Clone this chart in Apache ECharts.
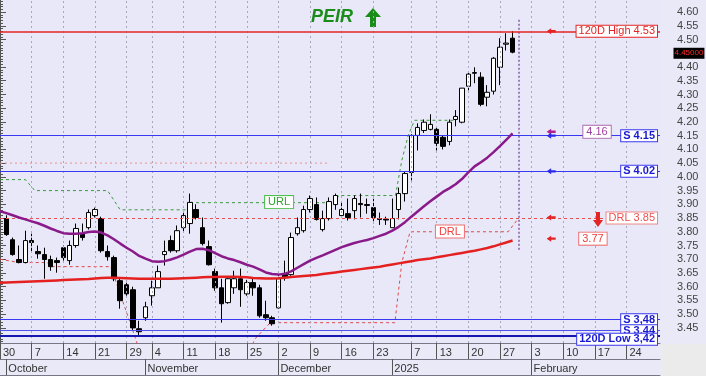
<!DOCTYPE html>
<html><head><meta charset="utf-8">
<script src="https://cdn.jsdelivr.net/npm/echarts@6/dist/echarts.min.js"></script>
<style>html,body{margin:0;padding:0;background:#fff}#c{width:706px;height:381px}</style>
</head><body><div id="c"></div>
<script>
// ---- data ----
const dayTickIdx = [0,5,10,15,20,24,29,34,39,44,49,54,59,65,69,74,79,84,89,94,99];
const dayTickLabels = ['30','7','14','21','29','4','11','18','25','2','9','16','23','7','13','20','27','3','10','17','24'];
const monthTickIdx = [1,23,44,62,84];
const monthLabels = ['October','November','December','2025','February'];
const priceTickLabels = ['3.45','3.50','3.55','3.60','3.65','3.70','3.75','3.80','3.85','3.90','3.95','4.00','4.05','4.10','4.15','4.20','4.25','4.30','4.35','4.40','4.50','4.55','4.60'];

const opens = [3.848,3.771,3.699,3.688,3.768,3.728,3.717,3.699,3.695,3.742,
 3.695,3.750,3.793,3.815,3.859,3.848,3.728,3.706,3.622,3.607,
 3.589,3.447,3.487,3.567,3.596,3.717,3.768,3.731,3.815,3.830,
 3.881,3.815,3.746,3.655,3.596,3.542,3.596,3.629,3.574,3.615,
 3.596,3.498,3.487,3.523,3.644,3.644,3.793,3.804,3.881,3.899,
 3.808,3.848,3.899,3.859,3.866,3.877,3.903,3.899,3.888,3.848,
 3.846,3.815,3.881,3.939,4.016,4.151,4.169,4.173,4.173,4.144,
 4.129,4.209,4.199,4.330,4.377,4.363,4.290,4.312,4.399,4.483,4.505];
const closes = [3.790,3.717,3.688,3.768,3.761,3.720,3.699,3.673,3.688,3.706,
 3.750,3.812,3.779,3.870,3.881,3.731,3.709,3.629,3.549,3.574,
 3.450,3.436,3.527,3.596,3.655,3.728,3.731,3.804,3.859,3.907,
 3.852,3.757,3.680,3.596,3.538,3.629,3.629,3.589,3.615,3.596,
 3.494,3.487,3.465,3.629,3.636,3.779,3.815,3.881,3.921,3.845,
 3.848,3.910,3.932,3.881,3.852,3.921,3.899,3.896,3.852,3.845,
 3.843,3.848,3.939,4.012,4.151,4.180,4.199,4.191,4.122,4.111,
 4.199,4.220,4.323,4.374,4.380,4.264,4.308,4.432,4.472,4.487,4.454];
const lows = [3.785,3.713,3.685,3.685,3.724,3.702,3.629,3.658,3.651,3.695,
 3.680,3.742,3.768,3.808,3.852,3.724,3.695,3.620,3.520,3.567,
 3.439,3.418,3.476,3.531,3.596,3.677,3.724,3.724,3.797,3.793,
 3.845,3.750,3.677,3.585,3.469,3.538,3.574,3.527,3.567,3.567,
 3.487,3.476,3.458,3.520,3.622,3.640,3.786,3.797,3.870,3.841,
 3.801,3.841,3.880,3.852,3.841,3.845,3.852,3.866,3.831,3.825,
 3.825,3.815,3.845,3.910,3.987,4.096,4.160,4.169,4.096,4.100,
 4.115,4.184,4.195,4.315,4.341,4.257,4.257,4.300,4.334,4.460,4.450];
const highs = [3.860,3.779,3.750,3.804,3.793,3.750,3.742,3.713,3.706,3.750,
 3.768,3.830,3.830,3.881,3.888,3.855,3.750,3.713,3.633,3.622,
 3.600,3.476,3.545,3.622,3.677,3.768,3.786,3.823,3.870,3.939,
 3.900,3.852,3.768,3.666,3.629,3.636,3.658,3.666,3.625,3.629,
 3.607,3.549,3.494,3.644,3.695,3.797,3.852,3.895,3.932,3.925,
 3.877,3.925,3.939,3.910,3.921,3.932,3.939,3.921,3.920,3.870,
 3.855,3.921,3.961,4.020,4.155,4.195,4.209,4.228,4.180,4.151,
 4.209,4.243,4.323,4.380,4.399,4.381,4.334,4.436,4.505,4.523,4.531];

// moving averages, index 0 = Sep 30
const maFast = [3.875,3.868,3.860,3.852,3.845,3.838,3.831,3.822,3.812,3.803,3.795,
 3.793,3.793,3.795,3.799,3.801,3.797,3.787,3.773,3.757,3.742,
 3.728,3.712,3.702,3.693,3.691,3.693,3.699,3.707,3.717,3.728,
 3.737,3.738,3.733,3.722,3.711,3.703,3.697,3.689,3.680,3.673,
 3.663,3.652,3.646,3.644,3.647,3.656,3.669,3.682,3.695,3.705,
 3.714,3.724,3.734,3.744,3.752,3.759,3.765,3.770,3.777,3.785,
 3.793,3.804,3.818,3.835,3.855,3.874,3.893,3.911,3.928,3.945,
 3.958,3.973,3.992,4.016,4.038,4.053,4.070,4.090,4.112,4.135,4.158];
const maSlow = [3.614,3.615,3.616,3.617,3.618,3.619,3.620,3.621,3.622,3.623,3.624,
 3.625,3.626,3.627,3.628,3.630,3.632,3.633,3.633,3.632,3.631,
 3.630,3.629,3.629,3.629,3.629,3.629,3.629,3.630,3.631,3.632,
 3.633,3.634,3.635,3.635,3.636,3.636,3.636,3.635,3.634,3.632,
 3.631,3.630,3.630,3.631,3.633,3.635,3.637,3.639,3.641,3.643,
 3.646,3.649,3.652,3.655,3.658,3.661,3.664,3.667,3.670,3.673,
 3.677,3.681,3.685,3.689,3.693,3.697,3.700,3.703,3.707,3.711,
 3.715,3.719,3.723,3.727,3.731,3.736,3.741,3.747,3.754,3.761,3.768];

// channel lines [dayIndex, price]
const urlLine = [[0,3.99],[4,3.99],[5.5,3.95],[17,3.95],[19,3.88],[29.5,3.88],[30,3.906],[53,3.906],[53.5,3.932],[62.5,3.932],[63.5,4.06],[64.5,4.15],[65.5,4.206],[72,4.206]];
const drlLine = [[0,3.70],[3,3.688],[7.5,3.688],[8,3.673],[17.5,3.673],[21,3.44],[22,3.37],[39.5,3.37],[40.3,3.41],[42.7,3.469],[62.4,3.469],[63.5,3.688],[64.8,3.80],[80.3,3.80],[81.9,3.848]];
const upperDotted = [[0,4.05],[52,4.05]];

const levelValues = [4.53,4.15,4.02,3.85,3.48,3.44,3.42];
const levelLabels = ['120D High 4.53','S 4.15','S 4.02','DRL 3.85','S 3,48','S 3,44','120D Low 3,42'];
const lastPrice = 4.45;
const lastIndex = 82;

// ---- chart ----
const FONT = 'Liberation Sans, Arial, sans-serif';
const blue = '#2a2ae8';
const red = '#e42424';
const sLine = {color:'#3838f0',width:1,type:'solid'};
const levelStyles = [
  {line:{color:red,width:1.5,type:'solid'}, text:red, border:red, bold:'normal', dy:0},
  {line:sLine, text:'#1a1ad0', border:'#3838f0', bold:'bold', dy:0},
  {line:sLine, text:'#1a1ad0', border:'#3838f0', bold:'bold', dy:0},
  {line:{color:'#e85050',width:1,type:[3,3]}, text:'#f05050', border:'#f08888', bold:'normal', dy:0},
  {line:sLine, text:'#1a1ad0', border:'#3838f0', bold:'bold', dy:0},
  {line:{color:'#5050f0',width:1,type:'solid'}, text:'#1a1ad0', border:'#3838f0', bold:'bold', dy:0},
  {line:{color:'#1818b0',width:2,type:'solid'}, text:'#1a1ad0', border:'#3838f0', bold:'bold', dy:3}
];

const minorTicks = [];
for (let k = 340; k <= 464; k++) minorTicks.push(k / 100);
const majorTicks = priceTickLabels.map(Number);

const levelMarks = levelValues.map((v, k) => ({
  yAxis: v,
  lineStyle: levelStyles[k].line,
  label: {
    show: true, position: 'insideEnd', distance: 3,
    offset: [0, levelStyles[k].dy],
    formatter: levelLabels[k],
    color: levelStyles[k].text, fontWeight: levelStyles[k].bold,
    fontSize: 11, lineHeight: 10, fontFamily: FONT,
    backgroundColor: '#fff', borderColor: levelStyles[k].border, borderWidth: 1,
    padding: [1, 2, 0, 2]
  }
}));
const gridMarks = dayTickIdx.filter(v => v > 1).map(v => ({
  xAxis: v, lineStyle: {color: '#a8a8bc', width: 1, type: [2, 3]}, label: {show: false}
}));
const vMark = [{coord: [lastIndex, 4.572], lineStyle: {color: '#8a5aa8', width: 1.5, type: [2, 2]}, label: {show: false}},
               {coord: [lastIndex, 3.73]}];

const leftArrow = 'path://M0,5 L6,0 L6,3 L12,3 L12,7 L6,7 L6,10 Z';
const downArrow = 'path://M3,0 L7,0 L7,8 L10,8 L5,15 L0,8 L3,8 Z';
function arrow(x, y, color) {
  return {coord: [x, y], symbol: leftArrow, symbolSize: [9, 6], itemStyle: {color: color}, label: {show: false}};
}
function box(x, y, text, color, border) {
  return {coord: [x, y], symbol: 'rect', symbolSize: 1, itemStyle: {color: 'rgba(0,0,0,0)'},
    label: {show: true, position: 'inside', formatter: text, color: color, fontSize: 11, fontFamily: FONT,
      backgroundColor: '#fff', borderColor: border, borderWidth: 1, padding: [1, 3, 0, 3]}};
}
const markPoints = [
  arrow(87.1, 4.53, red),
  arrow(87.1, 4.164, '#b02090'),
  arrow(87.1, 4.15, blue),
  arrow(87.1, 4.02, blue),
  arrow(87.1, 3.852, red),
  arrow(87.1, 3.775, red),
  {coord: [94.5, 3.845], symbol: downArrow, symbolSize: [10, 15], itemStyle: {color: red}, label: {show: false}},
  box(94.35, 4.164, maFast[maFast.length - 1].toFixed(2), '#a040a0', '#b070b0'),
  box(93.7, 3.775, maSlow[maSlow.length - 1].toFixed(2), '#f04040', '#f07070'),
  box(44.1, 3.908, 'URL', '#30a030', '#50c050'),
  box(71.1, 3.801, 'DRL', '#f04040', '#f07070'),
  {coord: [104.3, lastPrice], symbol: 'rect', symbolSize: 1, itemStyle: {color: 'rgba(0,0,0,0)'},
    label: {show: true, position: 'right', distance: 13, formatter: lastPrice.toFixed(5),
      color: '#ff2a2a', backgroundColor: '#000', fontSize: 8,
      fontFamily: FONT, padding: [2, 1, 1, 1]}}
];

const candleData = opens.map((o, k) => [k + 1, o, closes[k], lows[k], highs[k]]);

const chart = echarts.init(document.getElementById('c'), null, {renderer: 'canvas'});
chart.setOption({
  animation: false,
  backgroundColor: '#e9e9f7',
  title: {text: 'PEIR', left: 311, top: 8, padding: 0,
    textStyle: {color: '#1a8c1a', fontSize: 18, fontWeight: 'bold', fontStyle: 'italic', fontFamily: FONT}},
  graphic: [
    {type: 'polygon', shape: {points: [[373,8],[381,17],[376,17],[376,27],[370,27],[370,17],[365,17]]}, style: {fill: '#1a8c1a'}},
    {type: 'rect', shape: {x: 661, y: 344, width: 45, height: 32}, style: {fill: '#ebebeb'}},
    {type: 'rect', shape: {x: 0, y: 376, width: 706, height: 5}, style: {fill: '#ffffff'}}
  ],
  grid: {left: 0, right: 46, top: 0, bottom: 38, containLabel: false, outerBoundsMode: 'none', backgroundColor: '#e8e8f8', show: true, borderWidth: 0},
  xAxis: [
    {type: 'value', min: 0, max: 104.3, position: 'bottom',
      axisLine: {show: true, lineStyle: {color: '#777788'}},
      axisTick: {show: true, customValues: dayTickIdx, length: 16, lineStyle: {color: '#555'}},
      axisLabel: {customValues: dayTickIdx, align: 'left', margin: 4, padding: [0,0,0,3], fontSize: 11, color: '#333', fontFamily: FONT,
        formatter: v => dayTickLabels[dayTickIdx.indexOf(Math.round(v))] || ''},
      splitLine: {show: false}},
    {type: 'value', min: 0, max: 104.3, position: 'bottom', offset: 16,
      axisLine: {show: true, lineStyle: {color: '#777788'}},
      axisTick: {show: true, customValues: monthTickIdx, length: 16, lineStyle: {color: '#555'}},
      axisLabel: {customValues: monthTickIdx, align: 'left', margin: 4, padding: [0,0,0,2], fontSize: 11, color: '#333', fontFamily: FONT,
        formatter: v => monthLabels[monthTickIdx.indexOf(Math.round(v))] || ''},
      splitLine: {show: false}},
    {type: 'value', min: 0, max: 104.3, position: 'bottom', offset: 32,
      axisLine: {show: true, lineStyle: {color: '#777788'}}, axisTick: {show: false}, axisLabel: {show: false}, splitLine: {show: false}}
  ],
  yAxis: [
    {type: 'value', position: 'right', min: 3.395, max: 4.644,
      axisLine: {show: true, lineStyle: {color: '#555'}},
      axisTick: {show: true, customValues: minorTicks, length: 3, lineStyle: {color: '#555'}},
      axisLabel: {show: false}, splitLine: {show: false}},
    {type: 'value', position: 'right', min: 3.395, max: 4.644,
      axisLine: {show: false},
      axisTick: {show: true, customValues: majorTicks, length: 6, lineStyle: {color: '#555'}},
      axisLabel: {customValues: majorTicks, margin: 17, fontSize: 11, color: '#444', fontFamily: FONT,
        formatter: v => priceTickLabels[majorTicks.indexOf(v)] || v.toFixed(2)},
      splitLine: {show: false}}
  ],
  series: [
    {type: 'line', name: 'grid', data: [], xAxisIndex: 0, yAxisIndex: 0, silent: true, clip: false, z: 1,
      markLine: {symbol: ['none','none'], silent: true, animation: false, data: gridMarks.concat([vMark])}},
    {type: 'line', name: 'upper', data: upperDotted, showSymbol: false, z: 2,
      lineStyle: {color: '#e89090', width: 1, type: [2, 3]}},
    {type: 'line', name: 'URL', data: urlLine, showSymbol: false, z: 2,
      lineStyle: {color: '#3a9a3a', width: 1, type: [3, 3]}},
    {type: 'line', name: 'DRL', data: drlLine, showSymbol: false, z: 2,
      lineStyle: {color: '#e04848', width: 1, type: [3, 3]}},
    {type: 'line', name: 'levels', data: [], xAxisIndex: 0, yAxisIndex: 0, silent: true, clip: false, z: 3,
      markLine: {symbol: ['none','none'], silent: true, animation: false, data: levelMarks}},
    {type: 'candlestick', name: 'PEIR', data: candleData, encode: {x: 0, y: [1,2,3,4]}, barWidth: 5, z: 4,
      itemStyle: {color: '#ffffff', color0: '#000000', borderColor: '#000000', borderColor0: '#000000', borderWidth: 1}},
    {type: 'line', name: 'MA slow', data: maSlow.map((v, k) => [k, v]), showSymbol: false, z: 5,
      lineStyle: {color: '#e42020', width: 2.5}},
    {type: 'line', name: 'MA fast', data: maFast.map((v, k) => [k, v]), showSymbol: false, z: 5,
      lineStyle: {color: '#8a1a8a', width: 2.5}},
    {type: 'line', name: 'marks', data: [], silent: true, clip: false, z: 6,
      markPoint: {silent: true, animation: false, data: markPoints}}
  ]
});
</script></body></html>
